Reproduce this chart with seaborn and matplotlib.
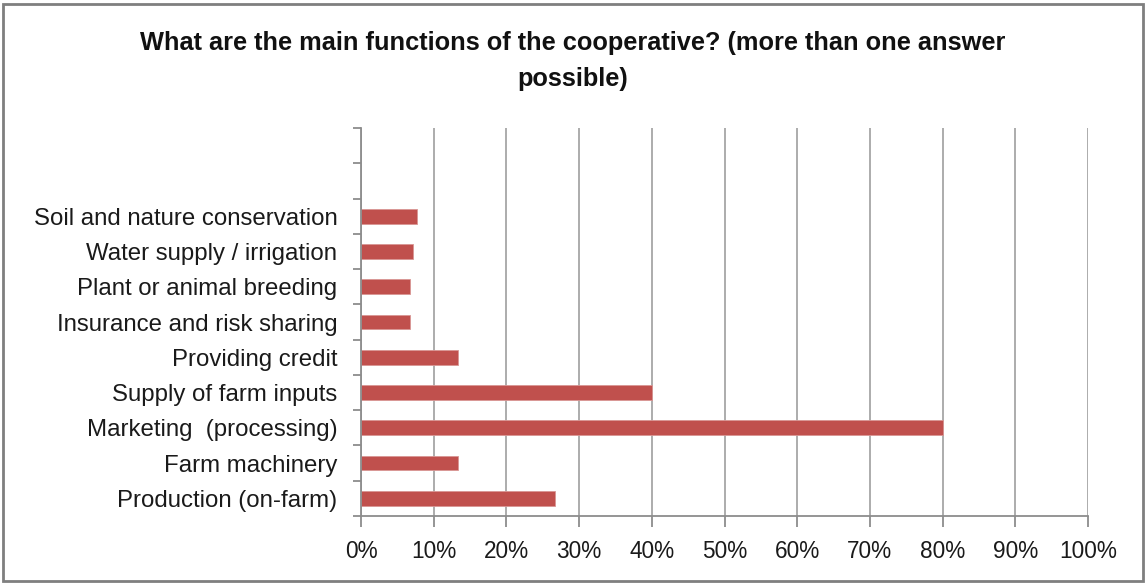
import matplotlib
matplotlib.use("Agg")
import matplotlib.pyplot as plt
import seaborn as sns
import pandas as pd
import numpy as np
from matplotlib.ticker import FixedLocator, PercentFormatter
from matplotlib.patches import Rectangle

categories = [
    "Soil and nature conservation",
    "Water supply / irrigation",
    "Plant or animal breeding",
    "Insurance and risk sharing",
    "Providing credit",
    "Supply of farm inputs",
    "Marketing  (processing)",
    "Farm machinery",
    "Production (on-farm)",
]
values = [7.7, 7.1, 6.7, 6.7, 13.3, 40.0, 80.0, 13.3, 26.7]
empty_slots = 2
x_ticks = list(range(0, 101, 10))
title = "What are the main functions of the cooperative? (more than one answer\npossible)"

sns.set_theme(style="white")
plt.rcParams["font.family"] = ["Liberation Sans", "DejaVu Sans"]

df = pd.DataFrame({"category": categories, "value": values})

fig = plt.figure(figsize=(11.46, 5.84), dpi=100)
ax = fig.add_axes([361/1146, 1-516/584, (1088-361)/1146, (516-128)/584])

sns.barplot(data=df, y="category", x="value", order=categories, orient="h",
            color="#C0504D", width=0.42, saturation=1, ax=ax,
            edgecolor="#D99694", linewidth=0.6)

n = len(categories)
ax.set_ylim(n - 0.5, -0.5 - empty_slots)
ax.set_xlim(0, 100)
ax.set_xticks(x_ticks)
ax.xaxis.set_major_formatter(PercentFormatter(decimals=0))
ax.grid(axis="x", color="#A6A6A6", linewidth=1.3)
ax.set_axisbelow(True)

ax.tick_params(axis="y", which="major", length=0, pad=17, labelsize=17.3, labelcolor="#1a1a1a")
ax.yaxis.set_minor_locator(FixedLocator(np.arange(-0.5 - empty_slots, n, 1.0)))
ax.tick_params(axis="y", which="minor", length=6, width=1.3, color="#8C8C8C", left=True)
ax.tick_params(axis="x", which="major", length=8, width=1.3, color="#8C8C8C", bottom=True,
               labelsize=16.3, labelcolor="#1a1a1a", pad=9)
ax.set_xlabel("")
ax.set_ylabel("")

for s in ["top", "right"]:
    ax.spines[s].set_visible(False)
for s in ["left", "bottom"]:
    ax.spines[s].set_color("#8C8C8C")
    ax.spines[s].set_linewidth(1.3)

fig.text(0.5, 1 - 61/584, title, ha="center", va="center", fontsize=18.3,
         fontweight="bold", linespacing=1.65, color="#111111")

fig.patches.append(Rectangle((3/1146, 3/584), 1140/1146, 577/584, transform=fig.transFigure,
                             fill=False, edgecolor="#7F7F7F", linewidth=2))

fig.savefig("out.png", dpi=100)
